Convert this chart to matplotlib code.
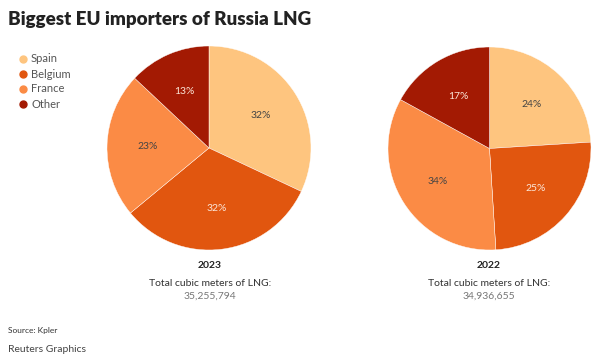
import numpy as np
import matplotlib.pyplot as plt
from matplotlib.lines import Line2D

countries = ["Spain", "Belgium", "France", "Other"]
colors = ["#fec57f", "#e1560f", "#fb8b45", "#a31a03"]
share_2023 = [32, 32, 23, 13]
share_2022 = [24, 25, 34, 17]
totals = {"2023": "35,255,794", "2022": "34,936,655"}

W, H = 601, 363
plt.rcParams['font.family'] = ['Lato', 'DejaVu Sans']

fig = plt.figure(figsize=(W / 100, H / 100), dpi=100)


def px_axes(x, y, w, h):
    return fig.add_axes([x / W, 1 - (y + h) / H, w / W, h / H])


def draw_pie(ax, vals):
    wedges, texts = ax.pie(vals, colors=colors, startangle=90, counterclock=False,
                           wedgeprops=dict(edgecolor="white", linewidth=0.3))
    for w, v, c in zip(wedges, vals, colors):
        mid = np.deg2rad((w.theta1 + w.theta2) / 2)
        x, y = 0.6 * np.cos(mid), 0.6 * np.sin(mid)
        # dark text on the light slices, pale text on the dark ones
        tc = "#444444" if c in ("#fec57f", "#fb8b45") else "#fbe6d8"
        ax.text(x, y, f"{v}%", ha="center", va="center", fontsize=7.5, color=tc)
    ax.set_xlim(-1, 1)
    ax.set_ylim(-1, 1)
    ax.set_aspect("equal")
    ax.axis("off")


ax1 = px_axes(107, 46, 204, 204)
draw_pie(ax1, share_2023)
ax2 = px_axes(388, 47, 203, 203)
draw_pie(ax2, share_2022)

fig.text(8 / W, 1 - 20 / H, "Biggest EU importers of Russia LNG", fontsize=13.5,
         fontweight="heavy", color="#222222", va="center", ha="left")

for i, (name, c) in enumerate(zip(countries, colors)):
    yy = 1 - (59 + 15 * i) / H
    fig.add_artist(Line2D([23 / W], [yy], marker="o", markersize=5, color=c,
                          transform=fig.transFigure))
    fig.text(31 / W, yy, name, fontsize=8, color="#555555", va="center", ha="left")

for cx, year in [(210, "2023"), (489, "2022")]:
    fig.text(cx / W, 1 - 266 / H, year, fontsize=7.5, fontweight="bold",
             color="#222222", ha="center", va="center")
    fig.text(cx / W, 1 - 283 / H, "Total cubic meters of LNG:", fontsize=7.5,
             color="#333333", ha="center", va="center")
    fig.text(cx / W, 1 - 296 / H, totals[year], fontsize=7.5,
             color="#777777", ha="center", va="center")

fig.text(8 / W, 1 - 331 / H, "Source: Kpler", fontsize=6, color="#333333",
         ha="left", va="center")
fig.text(8 / W, 1 - 350 / H, "Reuters Graphics", fontsize=7.5, color="#444444",
         ha="left", va="center")

fig.savefig("out.png", dpi=100, facecolor="white")
